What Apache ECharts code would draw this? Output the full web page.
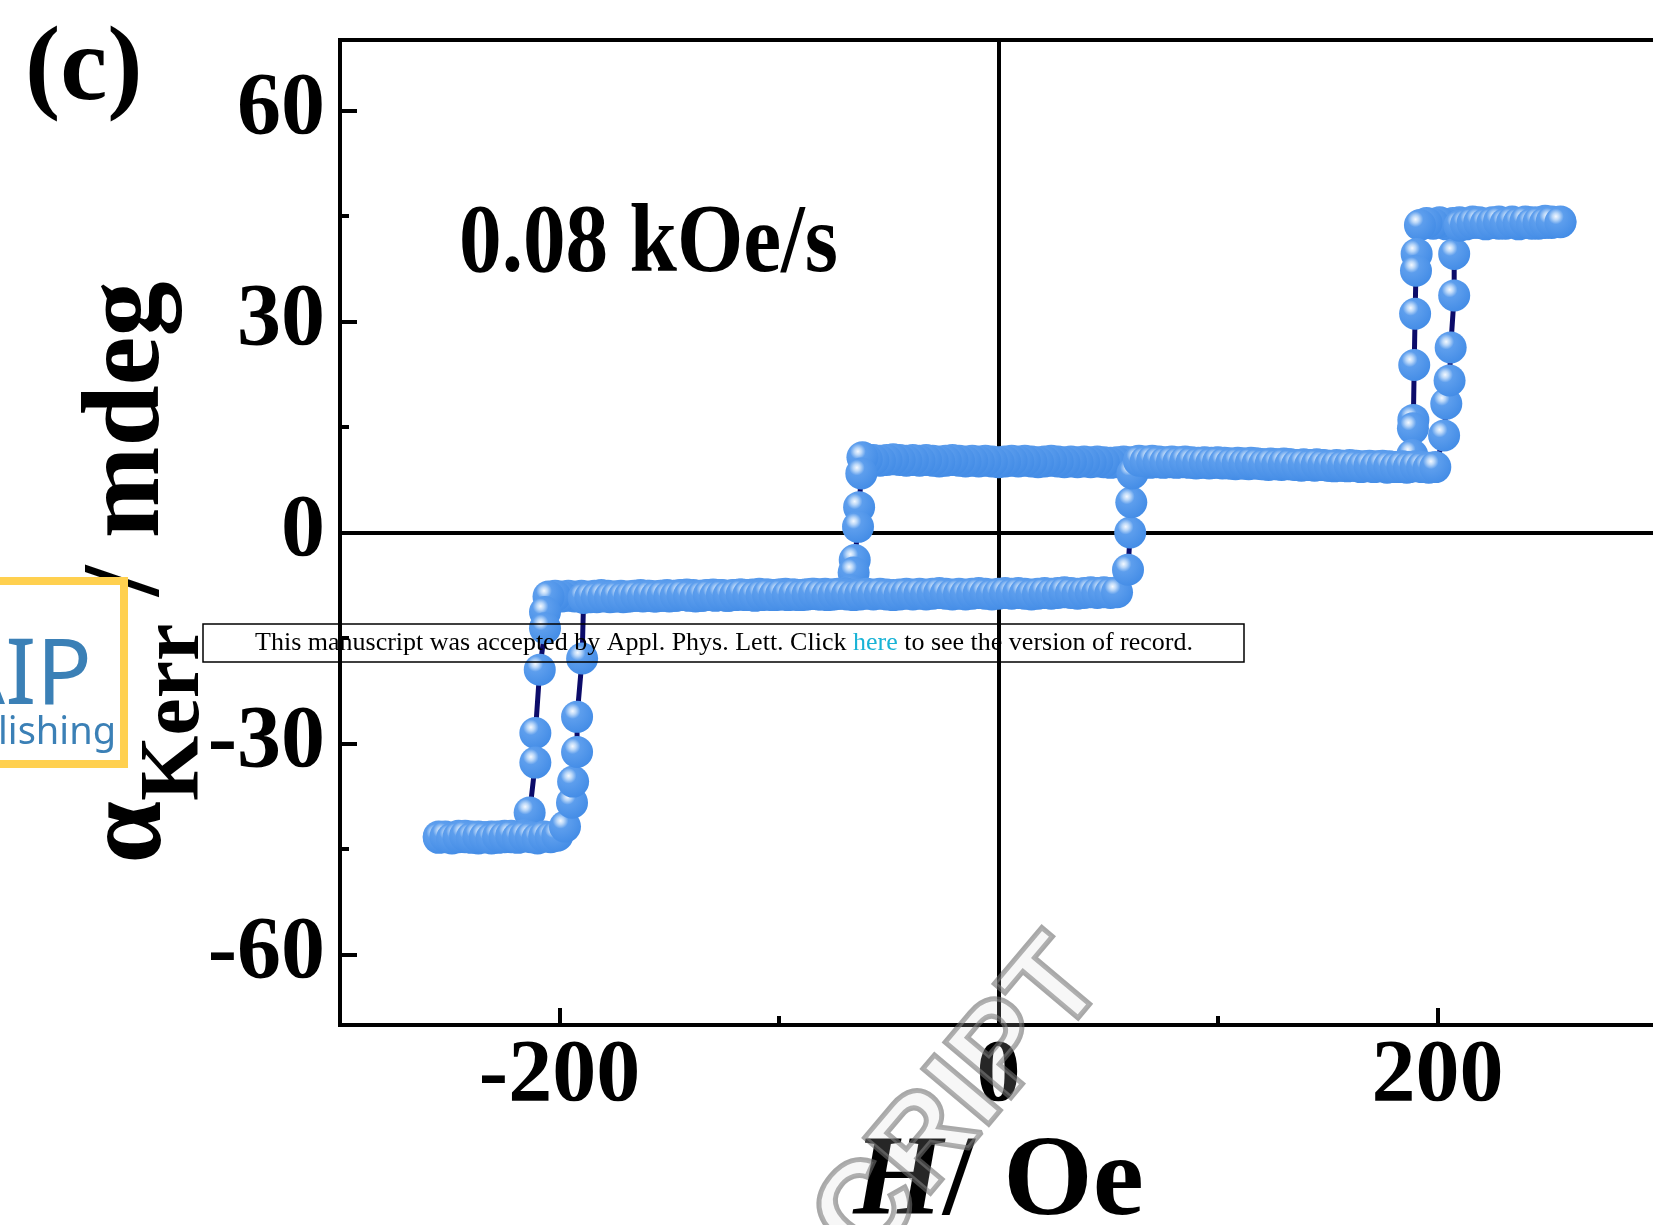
<!DOCTYPE html>
<html><head><meta charset="utf-8">
<script src="https://cdn.jsdelivr.net/npm/echarts@6/dist/echarts.min.js"></script>
<style>html,body{margin:0;padding:0;background:#fff}#c{width:1653px;height:1225px}</style>
</head><body><div id="c"></div>
<script>
// Descending field sweep: [H (Oe), alpha_Kerr (mdeg)]
const descLoop = [
[256,44.2],[252,44.0],[249,44.3],[246,43.9],[243,44.1],[240,44.0],[237,43.8],[234,44.2],[231,44.0],[228,43.9],[225,44.1],[222,43.8],[219,44.0],[216,44.2],[213,43.9],[210,44.1],[207,44.0],[204,43.8],[201,44.1],[198,43.9],[195,44.0],[192,43.7],
[190.5,39.6],[190.2,37.2],[189.8,31.1],[189.4,23.8],[189,16.0],[188.8,14.8],[188.5,11.0],
[186,9.2],[183,9.3],[180,9.3],[177,9.2],[174,9.4],[171,9.3],[168,9.4],[165,9.3],[162,9.5],[159,9.4],[156,9.5],[153,9.4],[150,9.5],[147,9.6],[144,9.5],[141,9.6],[138,9.5],[135,9.6],[132,9.7],[129,9.6],[126,9.7],[123,9.6],[120,9.7],[117,9.8],[114,9.7],[111,9.8],[108,9.7],[105,9.8],[102,9.8],[99,9.9],[96,9.8],[93,9.9],[90,9.8],[87,9.9],[84,10.0],[81,9.9],[78,10.0],[75,9.9],[72,10.0],[69,9.9],[66,10.0],[63,10.1],[60,10.0],[57,10.1],[54,10.0],[51,9.9],[48,10.0],[45,10.1],[42,10.0],[39,10.1],[36,10.0],[33,10.1],[30,10.0],[27,10.1],[24,10.2],[21,10.1],[18,10.0],[15,10.1],[12,10.2],[9,10.1],[6,10.2],[3,10.1],[0,10.0],[-3,10.1],[-6,10.2],[-9,10.1],[-12,10.2],[-15,10.1],[-18,10.2],[-21,10.3],[-24,10.2],[-27,10.1],[-30,10.2],[-33,10.3],[-36,10.2],[-39,10.3],[-42,10.2],[-45,10.3],[-48,10.4],[-51,10.3],[-54,10.2],[-57,10.3],[-60,10.4],
[-62,10.7],[-62.5,8.4],[-63.5,3.6],[-64,0.8],[-65.5,-3.9],[-66,-5.7],[-67,-8.2],
[-70,-8.6],[-73,-8.7],[-76,-8.8],[-79,-8.7],[-82,-8.8],[-85,-8.7],[-88,-8.8],[-91,-8.9],[-94,-8.8],[-97,-8.7],[-100,-8.8],[-103,-8.9],[-106,-8.8],[-109,-8.7],[-112,-8.8],[-115,-8.9],[-118,-8.8],[-121,-8.9],[-124,-9.0],[-127,-8.9],[-130,-8.8],[-133,-8.9],[-136,-9.0],[-139,-8.9],[-142,-8.8],[-145,-8.9],[-148,-9.0],[-151,-8.9],[-154,-9.0],[-157,-9.1],[-160,-9.0],[-163,-8.9],[-166,-9.0],[-169,-9.1],[-172,-9.0],[-175,-9.1],[-178,-9.0],[-181,-8.9],[-184,-9.0],[-187,-9.1],[-190,-9.0],[-193,-9.1],[-196,-9.0],[-199,-9.1],[-202,-9.0],[-205,-9.1],
[-206.6,-11.3],[-206.6,-13.6],[-209,-19.5],[-211,-28.5],[-211,-32.7],[-213.6,-39.8],
[-216,-43.0],[-219,-43.2],[-222,-43.3],[-225,-43.1],[-228,-43.4],[-231,-43.2],[-234,-43.3],[-237,-43.5],[-240,-43.2],[-243,-43.3],[-246,-43.1],[-249,-43.4],[-252,-43.3],[-255,-43.2]
];
// Ascending field sweep
const ascLoop = [
[-255,-43.4],[-252,-43.2],[-249,-43.5],[-246,-43.3],[-243,-43.1],[-240,-43.4],[-237,-43.2],[-234,-43.3],[-231,-43.5],[-228,-43.2],[-225,-43.3],[-222,-43.1],[-219,-43.4],[-216,-43.2],[-213,-43.3],[-210,-43.5],[-207,-43.2],[-204,-43.3],[-201,-43.1],
[-197.5,-41.8],[-194.3,-38.4],[-193.8,-35.4],[-192,-31.2],[-192,-26.2],[-189.7,-17.9],
[-189,-9.3],[-186,-9.2],[-183,-9.2],[-180,-9.1],[-177,-9.2],[-174,-9.1],[-171,-9.2],[-168,-9.1],[-165,-9.0],[-162,-9.1],[-159,-9.0],[-156,-9.1],[-153,-9.0],[-150,-9.1],[-147,-9.0],[-144,-8.9],[-141,-9.0],[-138,-9.1],[-135,-9.0],[-132,-8.9],[-129,-9.0],[-126,-8.9],[-123,-9.0],[-120,-8.9],[-117,-8.8],[-114,-8.9],[-111,-9.0],[-108,-8.9],[-105,-8.8],[-102,-8.9],[-99,-8.8],[-96,-8.9],[-93,-8.8],[-90,-8.9],[-87,-8.8],[-84,-8.7],[-81,-8.8],[-78,-8.9],[-75,-8.8],[-72,-8.7],[-69,-8.8],[-66,-8.9],[-63,-8.8],[-60,-8.7],[-57,-8.8],[-54,-8.7],[-51,-8.8],[-48,-8.9],[-45,-8.8],[-42,-8.7],[-39,-8.8],[-36,-8.7],[-33,-8.8],[-30,-8.7],[-27,-8.6],[-24,-8.7],[-21,-8.8],[-18,-8.7],[-15,-8.8],[-12,-8.7],[-9,-8.6],[-6,-8.7],[-3,-8.8],[0,-8.7],[3,-8.6],[6,-8.7],[9,-8.6],[12,-8.7],[15,-8.8],[18,-8.7],[21,-8.6],[24,-8.7],[27,-8.6],[30,-8.5],[33,-8.6],[36,-8.7],[39,-8.6],[42,-8.5],[45,-8.6],[48,-8.5],[51,-8.6],[54,-8.5],
[59,-5.3],[60,0.0],[60.5,4.3],[61,8.4],
[64,10.2],[67,10.1],[70,10.2],[73,10.1],[76,10.0],[79,10.1],[82,10.0],[85,10.1],[88,10.0],[91,9.9],[94,10.0],[97,9.9],[100,10.0],[103,9.9],[106,9.8],[109,9.9],[112,9.8],[115,9.9],[118,9.8],[121,9.7],[124,9.8],[127,9.7],[130,9.8],[133,9.7],[136,9.6],[139,9.7],[142,9.6],[145,9.7],[148,9.6],[151,9.5],[154,9.6],[157,9.5],[160,9.6],[163,9.5],[166,9.4],[169,9.5],[172,9.4],[175,9.5],[178,9.4],[181,9.3],[184,9.4],[187,9.3],[190,9.4],[193,9.3],[196,9.2],[199,9.3],
[203,13.8],[204,18.3],[205.5,21.6],[206,26.3],[207.6,33.7],[207.6,39.6],
[210,43.6],[213,43.8],[216,44.0],[219,44.1],[222,43.9],[225,44.0],[228,44.2],[231,43.9],[234,44.1],[237,44.0],[240,44.2],[243,43.9],[246,44.1],[249,44.0],[252,44.2],[256,44.1]
];
const xMajorTicks = [-200, 0, 200];
const xMinorTicks = [-100, 100];
const yMajorTicks = [-60, -30, 0, 30, 60];
const yMinorTicks = [-45, -15, 15, 45];

const SERIF = '"Liberation Serif","Times New Roman",serif';
const markerFill = {type:'radial', x:0.36, y:0.32, r:0.72, colorStops:[
  {offset:0, color:'#f4f9ff'},{offset:0.15, color:'#bcd8f8'},{offset:0.34, color:'#5d9eed'},{offset:1, color:'#438ce6'}]};

const chart = echarts.init(document.getElementById('c'), null, {renderer:'canvas'});
const tickStyle = {color:'#000', width:4};
chart.setOption({
  animation:false,
  backgroundColor:'#fff',
  grid:{left:340, top:40, width:1317, height:985, outerBoundsMode:'none', containLabel:false,
        show:true, borderColor:'#000', borderWidth:4, backgroundColor:'transparent'},
  xAxis:[
    {type:'value', min:-300, max:300, position:'bottom',
     axisLine:{onZero:false, lineStyle:{color:'#000', width:4}},
     axisTick:{inside:true, length:17, customValues:xMajorTicks, lineStyle:tickStyle},
     axisLabel:{customValues:xMajorTicks, margin:8, color:'#000', fontFamily:SERIF, fontWeight:'bold', fontSize:88, lineHeight:88},
     splitLine:{show:false},
     name:'{i|H}{n|/ Oe}', nameLocation:'middle', nameGap:102, nameMoveOverlap:false,
     nameTextStyle:{color:'#000', rich:{
       i:{fontFamily:SERIF, fontWeight:'bold', fontStyle:'italic', fontSize:115, lineHeight:115, color:'#000'},
       n:{fontFamily:SERIF, fontWeight:'bold', fontSize:115, lineHeight:115, color:'#000'}}}},
    {type:'value', min:-300, max:300, position:'bottom',
     axisLine:{show:false, onZero:false}, axisLabel:{show:false}, splitLine:{show:false},
     axisTick:{inside:true, length:9, customValues:xMinorTicks, lineStyle:tickStyle}}
  ],
  yAxis:[
    {type:'value', min:-70, max:70, position:'left',
     axisLine:{onZero:false, lineStyle:{color:'#000', width:4}},
     axisTick:{inside:true, length:17, customValues:yMajorTicks, lineStyle:tickStyle},
     axisLabel:{customValues:yMajorTicks, margin:15, color:'#000', fontFamily:SERIF, fontWeight:'bold', fontSize:88, lineHeight:88, padding:[0,0,14,0]},
     splitLine:{show:false},
     name:'{a|α}{k|Kerr}{m| / mdeg}', nameLocation:'middle', nameRotate:90, nameGap:122, nameMoveOverlap:false,
     nameTextStyle:{color:'#000', padding:[0,80,0,0], rich:{
       a:{fontFamily:SERIF, fontWeight:'bold', fontSize:112, lineHeight:112, verticalAlign:'top', color:'#000'},
       k:{fontFamily:SERIF, fontWeight:'bold', fontSize:84, lineHeight:143, verticalAlign:'bottom', color:'#000'},
       m:{fontFamily:SERIF, fontWeight:'bold', fontSize:110, lineHeight:112, verticalAlign:'top', color:'#000'}}}},
    {type:'value', min:-70, max:70, position:'left',
     axisLine:{show:false, onZero:false}, axisLabel:{show:false}, splitLine:{show:false},
     axisTick:{inside:true, length:9, customValues:yMinorTicks, lineStyle:tickStyle}}
  ],
  series:[
    {type:'line', name:'descending', data:descLoop, symbol:'none', z:2,
     lineStyle:{color:'#0c0c6a', width:5},
     markLine:{silent:true, z:1, symbol:['none','none'], label:{show:false},
       lineStyle:{color:'#000', width:4, type:'solid'},
       data:[{xAxis:0},{yAxis:0}]}},
    {type:'line', name:'ascending', data:ascLoop, symbol:'none', z:2,
     lineStyle:{color:'#0c0c6a', width:5}},
    {type:'scatter', name:'descending pts', data:descLoop, symbol:'circle', symbolSize:32, z:3,
     itemStyle:{color:markerFill, opacity:1}},
    {type:'scatter', name:'ascending pts', data:ascLoop, symbol:'circle', symbolSize:32, z:3,
     itemStyle:{color:markerFill, opacity:1}}
  ],
  graphic:[
    {type:'text', x:25, y:72, z:20, style:{text:'(c)', font:'bold 106px '+SERIF, fill:'#000', textVerticalAlign:'middle'}},
    {type:'text', x:459, y:246, scaleX:0.87, z:20, style:{text:'0.08 kOe/s', font:'bold 98px '+SERIF, fill:'#000', textVerticalAlign:'middle'}},
    {type:'rect', z:20, shape:{x:-20, y:581, width:144, height:183}, style:{fill:'#fff', stroke:'#ffd04f', lineWidth:8}},
    {type:'text', x:92, y:678, z:21, style:{text:'AIP', font:'92px "Noto Sans",sans-serif', fill:'#3b80b6', textAlign:'right', textVerticalAlign:'middle'}},
    {type:'text', x:116, y:733, z:21, style:{text:'Publishing', font:'38px "Noto Sans",sans-serif', fill:'#3b80b6', textAlign:'right', textVerticalAlign:'middle'}},
    {type:'rect', z:20, shape:{x:203, y:624, width:1041, height:38}, style:{fill:'none', stroke:'#000', lineWidth:1.5}},
    {type:'text', x:724, y:643, z:21, style:{
      text:'{t|This manuscript was accepted by Appl. Phys. Lett. Click }{h|here}{t| to see the version of record.}',
      textAlign:'center', textVerticalAlign:'middle',
      rich:{t:{font:'26px '+SERIF, fill:'#000'}, h:{font:'26px '+SERIF, fill:'#19b3d6'}}}},
    {type:'text', x:1130, y:1000, rotation:0.87, z:25, style:{text:'ACCEPTED MANUSCRIPT', font:'bold 125px "Liberation Sans",sans-serif', fill:'rgba(210,210,210,0.18)', stroke:'rgba(110,110,110,0.6)', lineWidth:5, textAlign:'right', textVerticalAlign:'bottom'}}
  ]
});
</script>
</body></html>
